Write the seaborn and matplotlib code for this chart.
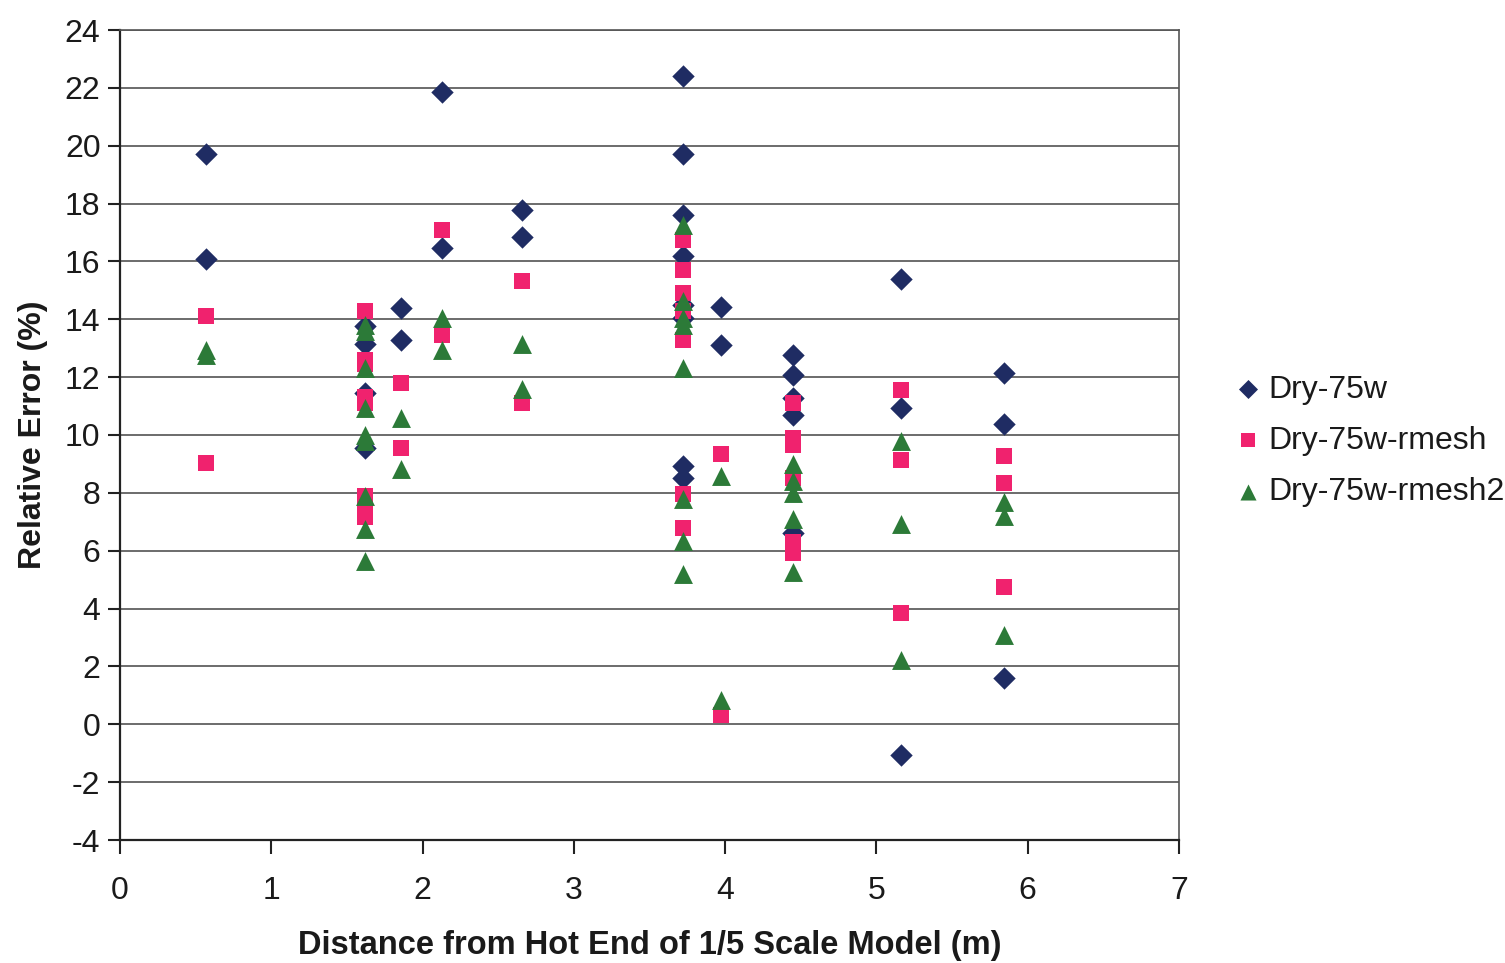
import numpy as np
import pandas as pd
import matplotlib
matplotlib.use("Agg")
import matplotlib.pyplot as plt
import seaborn as sns

# ---- data ----
series_names = ["Dry-75w", "Dry-75w-rmesh", "Dry-75w-rmesh2"]

dry_x = [0.57, 0.57,
         1.62, 1.62, 1.62, 1.62,
         1.86, 1.86,
         2.13, 2.13,
         2.66, 2.66,
         3.72, 3.72, 3.72, 3.72, 3.72, 3.72, 3.72, 3.72,
         3.97, 3.97,
         4.45, 4.45, 4.45, 4.45, 4.45,
         5.16, 5.16, 5.16,
         5.84, 5.84, 5.84]
dry_y = [19.72, 16.07,
         13.76, 13.15, 11.46, 9.55,
         14.39, 13.30,
         21.86, 16.46,
         17.78, 16.86,
         22.41, 19.70, 17.59, 16.20, 14.50, 14.05, 8.93, 8.53,
         14.41, 13.10,
         12.76, 12.07, 11.29, 10.68, 6.60,
         15.38, 10.94, -1.07,
         12.15, 10.37, 1.60]

rmesh_x = [0.57, 0.57,
           1.62, 1.62, 1.62, 1.62, 1.62, 1.62, 1.62, 1.62,
           1.86, 1.86,
           2.13, 2.13,
           2.66, 2.66,
           3.72, 3.72, 3.72, 3.72, 3.72, 3.72, 3.72,
           3.97, 3.97,
           4.45, 4.45, 4.45, 4.45, 4.45, 4.45,
           5.16, 5.16, 5.16,
           5.84, 5.84, 5.84]
rmesh_y = [14.10, 9.03,
           14.30, 12.60, 12.45, 11.30, 11.10, 7.90, 7.40, 7.15,
           11.80, 9.56,
           17.09, 13.47,
           15.31, 11.11,
           16.75, 15.71, 14.91, 14.30, 13.30, 7.96, 6.80,
           9.33, 0.31,
           11.11, 9.91, 9.65, 8.53, 6.29, 5.92,
           11.55, 9.13, 3.84,
           9.28, 8.33, 4.76]

rmesh2_x = [0.57, 0.57,
            1.62, 1.62, 1.62, 1.62, 1.62, 1.62, 1.62, 1.62, 1.62,
            1.86, 1.86,
            2.13, 2.13,
            2.66, 2.66,
            3.72, 3.72, 3.72, 3.72, 3.72, 3.72, 3.72, 3.72,
            3.97, 3.97,
            4.45, 4.45, 4.45, 4.45, 4.45,
            5.16, 5.16, 5.16,
            5.84, 5.84, 5.84]
rmesh2_y = [12.95, 12.75,
            13.80, 13.60, 12.32, 10.94, 10.00, 9.80, 7.90, 6.76, 5.66,
            10.60, 8.82,
            14.05, 12.95,
            13.13, 11.58,
            17.27, 14.62, 14.05, 13.80, 12.32, 7.79, 6.34, 5.19,
            8.59, 0.83,
            8.99, 8.41, 8.01, 7.09, 5.26,
            9.79, 6.92, 2.21,
            7.67, 7.21, 3.07]

x_ticks = [0, 1, 2, 3, 4, 5, 6, 7]
y_ticks = [-4, -2, 0, 2, 4, 6, 8, 10, 12, 14, 16, 18, 20, 22, 24]
x_label = "Distance from Hot End of 1/5 Scale Model (m)"
y_label = "Relative Error (%)"

df = pd.concat([
    pd.DataFrame({"x": dry_x, "y": dry_y, "series": series_names[0]}),
    pd.DataFrame({"x": rmesh_x, "y": rmesh_y, "series": series_names[1]}),
    pd.DataFrame({"x": rmesh2_x, "y": rmesh2_y, "series": series_names[2]}),
], ignore_index=True)

# ---- style ----
sns.set_style("white")
plt.rcParams["font.family"] = ["Liberation Sans", "DejaVu Sans"]

palette = {series_names[0]: "#1F2C63",
           series_names[1]: "#F0226E",
           series_names[2]: "#2C7A38"}
markers = {series_names[0]: "D",
           series_names[1]: "s",
           series_names[2]: "^"}
sizes_map = {series_names[0]: 130, series_names[1]: 140, series_names[2]: 185}

fig = plt.figure(figsize=(15.05, 9.63), dpi=100)
fig.patch.set_facecolor("white")
ax = fig.add_axes([120 / 1505, 1 - 840 / 963, (1179 - 120) / 1505, (840 - 30) / 963])

for name in series_names:
    sub = df[df["series"] == name]
    sns.scatterplot(data=sub, x="x", y="y", color=palette[name],
                    marker=markers[name], s=sizes_map[name],
                    linewidth=0, ax=ax, label=name, zorder=3)

ax.set_xlim(0, 7)
ax.set_ylim(-4, 24)
ax.set_xticks(x_ticks)
ax.set_yticks(y_ticks)
ax.set_xticklabels([str(v) for v in x_ticks], fontsize=23, color="#1a1a1a")
ax.set_yticklabels([str(v) for v in y_ticks], fontsize=23, color="#1a1a1a")

ax.yaxis.grid(True, color="#444444", linewidth=1.1)
ax.xaxis.grid(False)
ax.set_axisbelow(True)

for side in ["left", "bottom"]:
    ax.spines[side].set_color("#222222")
    ax.spines[side].set_linewidth(1.6)
for side in ["top", "right"]:
    ax.spines[side].set_color("#555555")
    ax.spines[side].set_linewidth(1.2)

ax.tick_params(axis="x", which="major", direction="out", length=10, width=1.5,
               color="#222222", pad=16, bottom=True)
ax.tick_params(axis="y", which="major", direction="out", length=9, width=1.5,
               color="#222222", pad=5, left=True)

ax.set_xlabel(x_label, fontsize=23.5, fontweight="bold", labelpad=17, color="#1a1a1a")
ax.set_ylabel(y_label, fontsize=23, fontweight="bold", labelpad=12, color="#1a1a1a")

ax.legend_.remove()
handles, labels = ax.get_legend_handles_labels()
fig.legend(handles, labels, loc="upper left",
           bbox_to_anchor=(1219 / 1505, 1 - 362 / 963),
           frameon=False, fontsize=23, labelspacing=0.66,
           handletextpad=0.15, handlelength=1.0, markerscale=0.85,
           borderaxespad=0, labelcolor="#1a1a1a")

fig.savefig("out.png", dpi=100, facecolor="white")
